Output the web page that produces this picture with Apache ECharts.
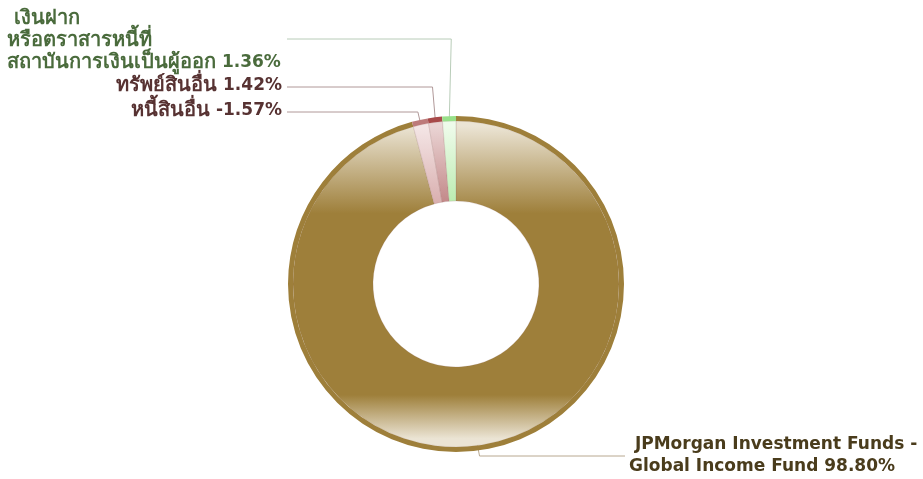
<!DOCTYPE html>
<html>
<head>
<meta charset="utf-8">
<script src="https://cdn.jsdelivr.net/npm/echarts@6/dist/echarts.min.js"></script>
<style>
	html, body { margin: 0; padding: 0; background: #fff; }
	#chart { width: 923px; height: 479px; }
</style>
</head>
<body>
<div id="chart"></div>
<script>
// 资产配置数据
const categories = [
	" JPMorgan Investment Funds -\nGlobal Income Fund",
	"หนี้สินอื่น",
	"ทรัพย์สินอื่น",
	" เงินฝาก\nหรือตราสารหนี้ที่\nสถาบันการเงินเป็นผู้ออก",
];
const values = [98.8, -1.57, 1.42, 1.36];
const isThai = [false, true, true, true];

// 颜色
const baseColors = ["#9e7f3a", "#d6a8a8", "#bd7e7e", "#b4eaa8"];
const lightColors = ["#ebe4d4", "#f4e6e6", "#ead4d4", "#eefbea"];
const ringColors = ["#9e7f3a", "#bd7a7a", "#a84a4a", "#98e08a"];
const textColors = ["#4a3c1c", "#573232", "#573232", "#4a6b3c"];
const lineColors = ["#b8a890", "#b09898", "#b09898", "#b8ccb8"];

// 标签位置 (x, y, 对齐, 折线y, 折线终点x)
const labelPos = [
	{ x: 629, y: 456, align: "left", lineY: 456, endX: 625 },
	{ x: 282, y: 111, align: "right", lineY: 112, endX: 287 },
	{ x: 282, y: 86, align: "right", lineY: 87, endX: 287 },
	{ x: 7, y: 41, align: "left", lineY: 39, endX: 287 },
];

const cx = 456;
const cy = 284;
const rOut = 168;

function shade(i) {
	return new echarts.graphic.LinearGradient(
		0, cy - rOut, 0, cy + rOut,
		[
			{ offset: 0, color: lightColors[i] },
			{ offset: 0.03, color: lightColors[i] },
			{ offset: 0.29, color: baseColors[i] },
			{ offset: 0.83, color: baseColors[i] },
			{ offset: 0.96, color: lightColors[i] },
			{ offset: 1, color: lightColors[i] },
		],
		true
	);
}

const chart = echarts.init(document.getElementById("chart"), null, { renderer: "canvas" });

const textBase = {
	fontFamily: "DejaVu Sans",
	fontWeight: "bold",
	lineHeight: 22,
};

const option = {
	animation: false,
	series: [
		{
			type: "pie",
			center: [cx, cy],
			radius: [83, rOut - 5],
			startAngle: 90,
			clockwise: true,
			emphasis: { disabled: true },
			itemStyle: { borderColor: "rgba(140,100,90,0.35)", borderWidth: 0.5 },
			label: {
				show: true,
				position: "outside",
				...textBase,
				fontSize: 17,
				formatter: (p) => {
					const pct = `${values[p.dataIndex].toFixed(2)}%`;
					if (isThai[p.dataIndex]) {
						return `{t|${p.name}} {n|${pct}}`;
					}
					return `{n|${p.name} ${pct}}`;
				},
			},
			labelLine: { show: true, length: 10, length2: 10, smooth: false },
			labelLayout: (params) => {
				const pos = labelPos[params.dataIndex];
				const p0 = params.labelLinePoints[0];
				const dx = pos.align === "left" ? 2 : -3;
				return {
					x: pos.x,
					y: pos.y,
					align: pos.align,
					verticalAlign: "middle",
					labelLinePoints: [p0, [p0[0] + dx, pos.lineY], [pos.endX, pos.lineY]],
				};
			},
			data: values.map((v, i) => ({
				name: categories[i],
				value: Math.abs(v),
				itemStyle: { color: shade(i) },
				label: {
					color: textColors[i],
					rich: {
						t: { ...textBase, fontSize: 20, color: textColors[i] },
						n: { ...textBase, fontSize: 17, color: textColors[i] },
					},
				},
				labelLine: { lineStyle: { color: lineColors[i], width: 1 } },
			})),
		},
		{
			// 外圈
			type: "pie",
			center: [cx, cy],
			radius: [rOut - 5, rOut],
			startAngle: 90,
			clockwise: true,
			silent: true,
			label: { show: false },
			labelLine: { show: false },
			data: values.map((v, i) => ({
				name: categories[i],
				value: Math.abs(v),
				itemStyle: { color: ringColors[i] },
			})),
		},
	],
};

chart.setOption(option);
</script>
</body>
</html>
